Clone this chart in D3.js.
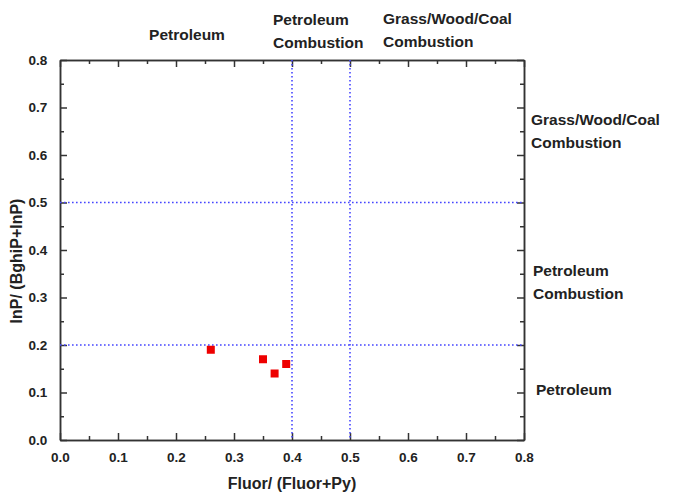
<!DOCTYPE html>
<html>
<head>
<meta charset="utf-8">
<script src="https://cdn.jsdelivr.net/npm/d3@7"></script>
<style>
  body { margin: 0; background: #fff; }
  svg text { font-family: "Liberation Sans", Arial, sans-serif; font-weight: bold; fill: #222; }
</style>
</head>
<body>
<svg id="chart" width="675" height="501"></svg>
<script>
// ratio values
const fluorRatio = [0.26, 0.35, 0.37, 0.39];
const inpRatio = [0.19, 0.17, 0.14, 0.16];
const xTicks = [0, 0.1, 0.2, 0.3, 0.4, 0.5, 0.6, 0.7, 0.8];
const yTicks = [0, 0.1, 0.2, 0.3, 0.4, 0.5, 0.6, 0.7, 0.8];
const xCutoffs = [0.4, 0.5];
const yCutoffs = [0.2, 0.5];

const svg = d3.select("#chart");
const margin = { top: 60, right: 151, bottom: 61, left: 60 },
    width = 675 - margin.left - margin.right,
    height = 501 - margin.top - margin.bottom;

const g = svg.append("g").attr("transform", `translate(${margin.left},${margin.top})`);

const x = d3.scaleLinear().domain([0, 0.8]).range([0, width]);
const y = d3.scaleLinear().domain([0, 0.8]).range([height, 0]);

const minor = d3.range(0.05, 0.8, 0.1);
const fmt = d3.format(".1f");

// inward ticks on every side
function ticks(axisFn, scale, vals, len, labels) {
    return axisFn(scale).tickValues(vals).tickSizeInner(-len).tickSizeOuter(0)
        .tickFormat(labels ? fmt : "").tickPadding(labels ? 12 : 0);
}

const axBottom = g.append("g").attr("transform", `translate(0,${height})`);
axBottom.call(ticks(d3.axisBottom, x, xTicks, 7, true));
axBottom.append("g").call(ticks(d3.axisBottom, x, minor, 4, false));

const axLeft = g.append("g");
axLeft.call(ticks(d3.axisLeft, y, yTicks, 7, true));
axLeft.append("g").call(ticks(d3.axisLeft, y, minor, 4, false));

const axTop = g.append("g");
axTop.call(ticks(d3.axisTop, x, xTicks, 7, false));
axTop.append("g").call(ticks(d3.axisTop, x, minor, 4, false));

const axRight = g.append("g").attr("transform", `translate(${width},0)`);
axRight.call(ticks(d3.axisRight, y, yTicks, 7, false));
axRight.append("g").call(ticks(d3.axisRight, y, minor, 4, false));

g.selectAll(".domain").attr("stroke", "#333").attr("stroke-width", 1.5);
g.selectAll(".tick line").attr("stroke", "#333").attr("stroke-width", 1.5);
g.selectAll(".tick text").attr("font-size", 13.5).attr("fill", "#222");
axLeft.selectAll(".tick text").attr("dx", "-0.05em");

// cutoff lines
g.selectAll(".vcut").data(xCutoffs).enter().append("line")
    .attr("x1", d => x(d)).attr("x2", d => x(d))
    .attr("y1", 0).attr("y2", height)
    .attr("stroke", "#4545ff").attr("stroke-width", 1.6).attr("stroke-dasharray", "1.6,2.4");
g.selectAll(".hcut").data(yCutoffs).enter().append("line")
    .attr("x1", 0).attr("x2", width)
    .attr("y1", d => y(d)).attr("y2", d => y(d))
    .attr("stroke", "#4545ff").attr("stroke-width", 1.6).attr("stroke-dasharray", "1.6,2.4");

// points
g.selectAll(".pt").data(fluorRatio).enter().append("rect")
    .attr("x", (d, i) => x(d) - 4).attr("y", (d, i) => y(inpRatio[i]) - 4)
    .attr("width", 8).attr("height", 8).attr("fill", "#ee0000");

// region labels
function label(lines, px, py, anchor) {
    const t = svg.append("text").attr("font-size", 15.5).attr("text-anchor", anchor || "start");
    lines.forEach((s, i) => t.append("tspan").attr("x", px).attr("y", py + i * 23).text(s));
}
label(["Petroleum"], 187, 40, "middle");
label(["Petroleum", "Combustion"], 273, 25);
label(["Grass/Wood/Coal", "Combustion"], 383, 24);
label(["Grass/Wood/Coal", "Combustion"], 531, 125);
label(["Petroleum", "Combustion"], 533, 276);
label(["Petroleum"], 536, 395);

// axis titles
svg.append("text").attr("x", 292).attr("y", 489)
    .attr("text-anchor", "middle").attr("font-size", 16).text("Fluor/ (Fluor+Py)");
svg.append("text").attr("transform", `translate(22,261) rotate(-90)`)
    .attr("text-anchor", "middle").attr("font-size", 16).text("InP/ (BghiP+InP)");
</script>
</body>
</html>
